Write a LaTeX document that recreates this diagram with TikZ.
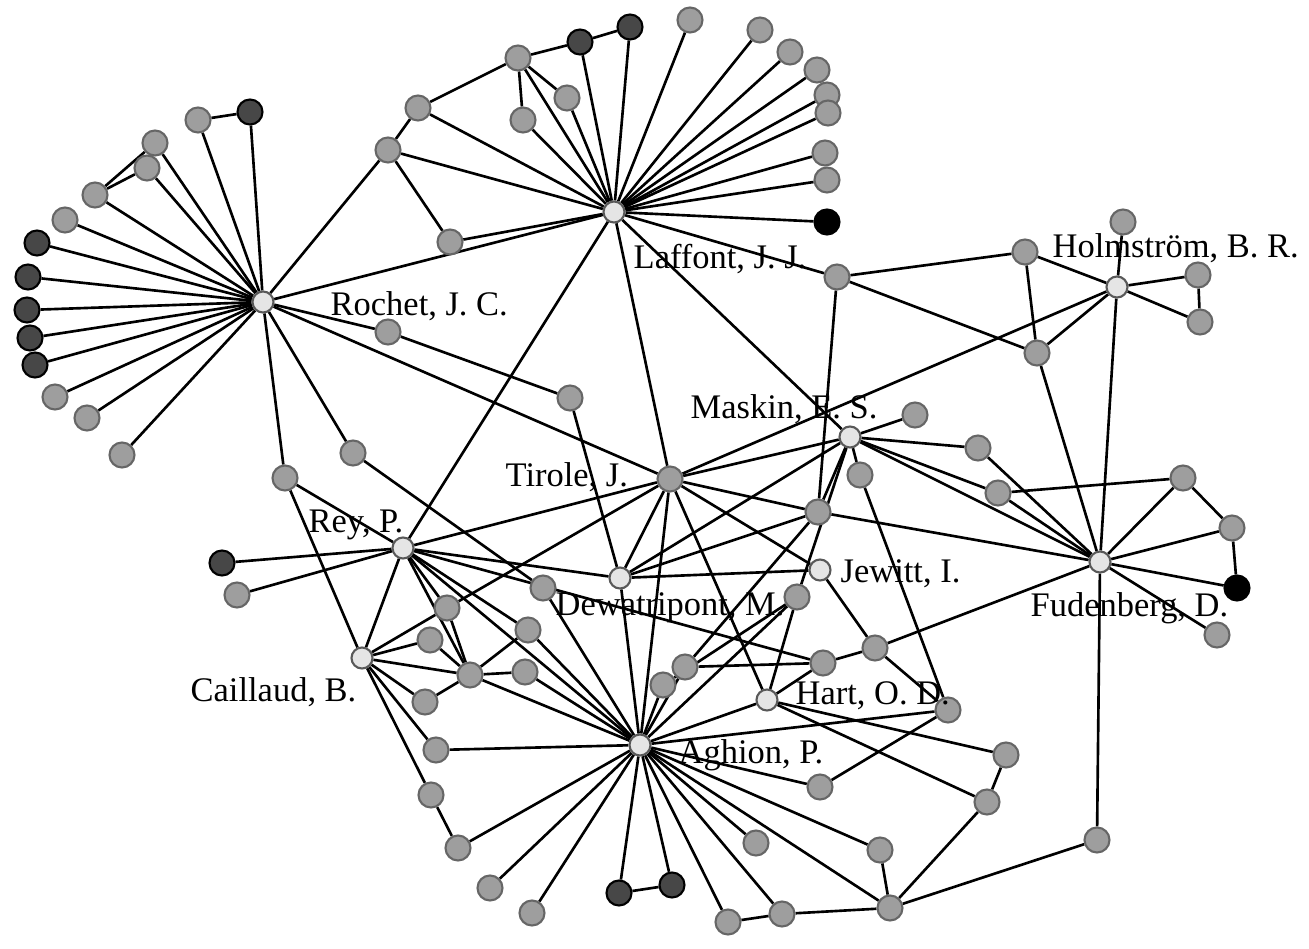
\documentclass[tikz,border=0pt]{standalone}
\usepackage{fontspec}
\setmainfont{Liberation Serif}
\usepackage{tikz}
\usetikzlibrary{backgrounds}

\begin{document}
\begin{tikzpicture}[
      x=0.01cm, y=-0.01cm,
      hub/.style={
          circle,
          draw=black!65,
          line width=0.6pt,
          fill=black!10,
          inner sep=0pt,
          minimum size=0.21cm
        },
      leaf/.style={
          circle,
          draw=black!60,
          line width=0.6pt,
          fill=black!38,
          inner sep=0pt,
          minimum size=0.25cm
        },
      dark/.style={
          leaf,
          draw=black,
          fill=black!72
        },
      solid/.style={
          leaf,
          draw=black,
          fill=black
        },
      link/.style={
          line width=0.75pt,
          black
        },
      lbl/.style={
          anchor=base west,
          inner sep=0pt,
          font=\fontsize{9.8}{11}\selectfont
        }
    ]
    \useasboundingbox (0,0) rectangle (1309,949);

    % Hubs
    \node[hub] (roc) at (263,302) {};
    \node[hub] (laf) at (614,212) {};
    \node[hub] (hol) at (1117,287) {};
    \node[hub] (mas) at (850,437) {};
    \node[leaf] (tir) at (670,479) {};
    \node[hub] (rey) at (403,548) {};
    \node[hub] (cai) at (362,658) {};
    \node[hub] (dew) at (620,578) {};
    \node[hub] (jew) at (820,570) {};
    \node[hub] (fud) at (1100,562) {};
    \node[hub] (har) at (767,700) {};
    \node[hub] (agh) at (640,745) {};

    % Grey leaves
    \foreach \n/\p in {r1/{198,120}, r3/{155,143}, r4/{147,168}, r5/{95,195},
        r6/{65,220}, r12/{55,397}, r13/{87,418}, r14/{122,455}, r15/{285,478},
        r16/{353,453}, r17/{388,332},
        l1/{388,150}, l2/{418,108}, l3/{518,58}, l6/{567,98}, l7/{523,120},
        l8/{450,242}, l9/{690,20}, l10/{760,30}, l11/{790,52}, l12/{817,70},
        l13/{827,95}, l14/{828,113}, l15/{825,153}, l16/{827,180}, l18/{837,277},
        h1/{1025,252}, h2/{1123,222}, h3/{1198,275}, h4/{1200,322}, h5/{1037,353},
        m1/{915,415}, m2/{978,448}, m3/{998,493}, m4/{860,475}, m5/{818,512},
        f1/{1183,478}, f2/{1232,528}, f4/{1217,635}, f5/{1097,840},
        c1/{570,398}, c2/{543,588}, c3/{797,597}, c4/{823,663}, c5/{875,648},
        c6/{685,667}, c7/{663,685}, c8/{948,710},
        y2/{237,595},
        a1/{447,608}, a2/{430,640}, a3/{470,675}, a4/{528,630}, a5/{525,672},
        a6/{425,702}, a7/{436,750}, a8/{431,795},
        b1/{458,848}, b2/{490,888}, b3/{532,913}, b6/{728,922}, b7/{782,914},
        b8/{756,843}, b9/{880,850}, b10/{890,908}, b11/{820,787},
        b12/{987,802}, b13/{1006,755}}
      \node[leaf] (\n) at (\p) {};

    % Dark leaves
    \foreach \n/\p in {r2/{250,112}, r7/{37,243}, r8/{28,277}, r9/{27,310},
        r10/{30,338}, r11/{35,365}, l4/{580,42}, l5/{630,27}, y1/{222,563},
        b4/{619,893}, b5/{672,885}}
      \node[dark] (\n) at (\p) {};
    \node[solid] (l17) at (827,222) {};
    \node[solid] (f3) at (1237,588) {};

    % Names
    \node[lbl] (tRoc) at (330,316) {Rochet, J. C.};
    \node[lbl] (tLaf) at (633,269) {Laffont, J. J.};
    \node[lbl] (tHol) at (1052,258) {Holmström, B. R.};
    \node[lbl] (tMas) at (690,419) {Maskin, E. S.};
    \node[lbl] (tTir) at (505,487) {Tirole, J.};
    \node[lbl] (tRey) at (308,533) {Rey, P.};
    \node[lbl] (tCai) at (190,701) {Caillaud, B.};
    \node[lbl] (tDew) at (555,615) {Dewatripont, M.};
    \node[lbl] (tJew) at (840,582) {Jewitt, I.};
    \node[lbl] (tFud) at (1030,616) {Fudenberg, D.};
    \node[lbl] (tHar) at (795,704) {Hart, O. D.};
    \node[lbl] (tAgh) at (678,763) {Aghion, P.};

    % Edges
    \begin{pgfonlayer}{background}
    \foreach \a/\b in {roc/r1, roc/r2, roc/r3, roc/r4, roc/r5, roc/r6, roc/r7,
        roc/r8, roc/r9, roc/r10, roc/r11, roc/r12, roc/r13, roc/r14, roc/r15,
        roc/r16, roc/r17, roc/laf, roc/tir, roc/l1, r1/r2, r5/r3, r5/r4,
        r17/c1, c1/dew, r16/c2, c2/agh, r15/cai, r15/rey,
        laf/l1, laf/l2, laf/l3, laf/l4, laf/l5, laf/l6, laf/l7, laf/l8, laf/l9,
        laf/l10, laf/l11, laf/l12, laf/l13, laf/l14, laf/l15, laf/l16, laf/l17,
        laf/l18, l1/l2, l2/l3, l3/l4, l4/l5, l3/l6, l3/l7, l1/l8,
        laf/tir, laf/mas, laf/rey,
        l18/h1, l18/h5, l18/m5,
        hol/h1, hol/h2, hol/h3, hol/h4, hol/h5, h3/h4, h1/h5, hol/tir, hol/fud,
        h5/fud,
        mas/m1, mas/m2, mas/m3, mas/m4, mas/m5, mas/fud, mas/tir, mas/dew,
        mas/c3, m2/fud, m3/fud, m3/f1, m4/c8,
        fud/f1, fud/f2, fud/f3, fud/f4, fud/f5, f1/f2, f2/f3, m5/fud, fud/c5,
        tir/rey, tir/dew, tir/a1, tir/agh, tir/har, tir/jew, tir/m5,
        dew/jew, dew/rey, dew/agh, dew/m5,
        rey/y1, rey/y2, rey/cai, rey/a1, rey/a3, rey/a4, rey/agh, rey/c4,
        cai/a1, cai/a2, cai/a3, cai/a6, cai/a7, cai/a8,
        a2/a3, a1/a3, a3/a4, a3/a5, a3/agh, a6/a3, a4/agh, a5/agh, a7/agh,
        a8/b1, b1/agh, agh/b2, agh/b3, agh/b4, agh/b5, agh/b6, agh/b7, agh/b8,
        agh/b9, agh/b10, agh/b11, agh/c8, b4/b5, b6/b7, b7/b10, b9/b10,
        b10/b12, b12/b13, b10/f5, b11/c8,
        har/b13, har/b12, har/agh, har/c3, har/c4,
        c4/c6, c4/c5, c5/c8, jew/c5, c6/m5, c7/c3, c6/agh, c7/agh, agh/c3}
      \draw[link] (\a) -- (\b);
    \end{pgfonlayer}
\end{tikzpicture}
\end{document}
